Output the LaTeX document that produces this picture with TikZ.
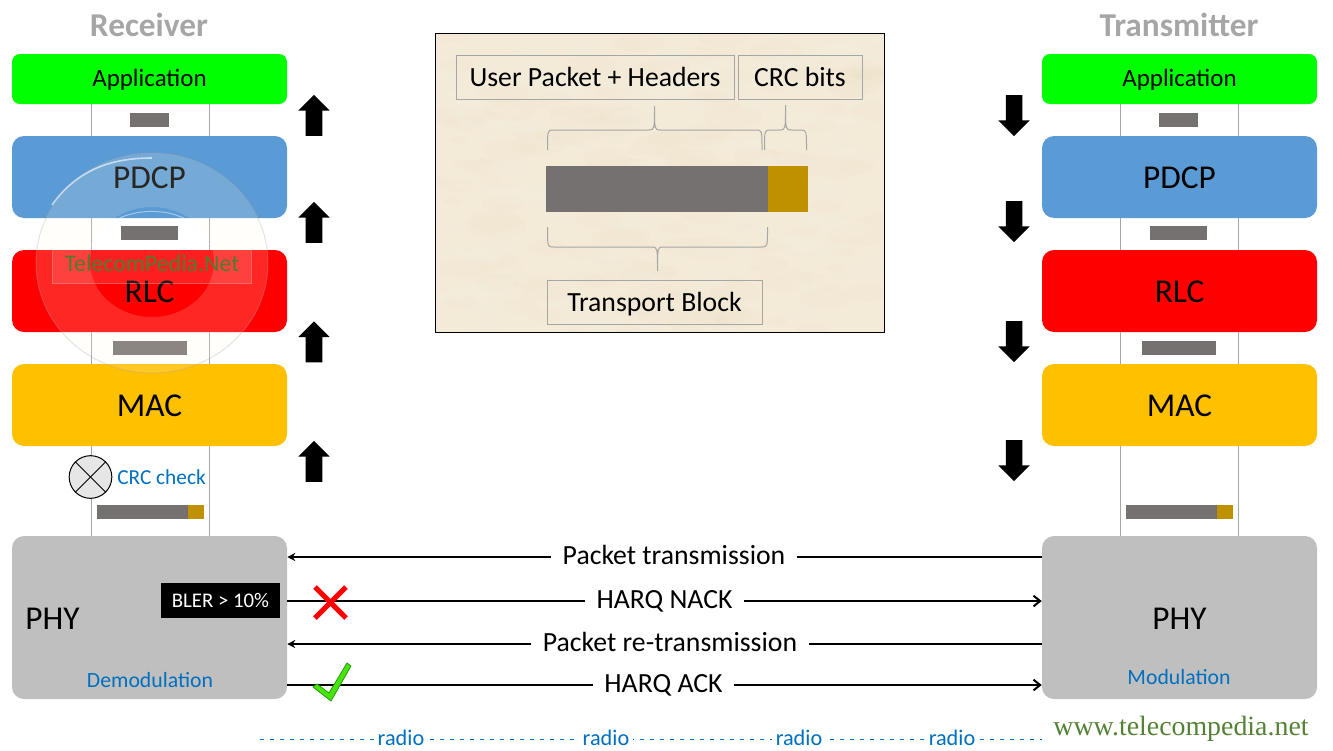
\documentclass[tikz,border=0pt]{standalone}
\usepackage{fontspec}
\setmainfont{Carlito}
\newfontfamily\siteface{Liberation Serif}
\usepackage{tikz}
\usetikzlibrary{arrows.meta}
\usetikzlibrary{calc}
\usetikzlibrary{shapes.arrows}
\definecolor{barGray}{HTML}{767171}
\definecolor{barGold}{HTML}{BF9000}
\definecolor{linkBlue}{HTML}{0070C0}
\definecolor{stemGray}{HTML}{A6A6A6}
\definecolor{paper}{HTML}{F3EAD7}

\begin{document}
\begin{tikzpicture}[
        x=.75pt, y=-.75pt, % 1 unit is one pixel of the figure
        % --- Styles ---
        layer/.style={rounded corners=9pt, minimum width=206.25pt, inner sep=0pt, text=black, text height=17pt, text depth=0pt, font=\fontsize{25}{29}\selectfont},
        title/.style={font=\fontsize{25}{29}\selectfont\bfseries, text=stemGray},
        stem/.style={stemGray, line width=.75pt},
        upblock/.style={single arrow, fill=black, shape border rotate=90, minimum height=30.75pt, minimum width=23.25pt, single arrow head extend=5.6pt, inner sep=6pt},
        downblock/.style={upblock, shape border rotate=270},
        tag/.style={draw=stemGray, line width=.75pt, inner sep=0pt, text height=18.5pt, text depth=4pt, font=\fontsize{20.8}{24}\selectfont, text=black},
        bracket/.style={stemGray, line width=.75pt},
        msg/.style={inner xsep=8.5pt, inner ysep=0pt, text height=15.5pt, text depth=4.3pt, font=\fontsize{20.8}{24}\selectfont},
        msgline/.style={line width=1.5pt},
        blue label/.style={text=linkBlue, font=\fontsize{16.3}{19}\selectfont},
    ]
    \useasboundingbox (0,0) rectangle (1333,750);

    % --- 1. Titles ---
    \node[title] (rxtitle) at (149,25) {Receiver};
    \node[title] (txtitle) at (1179,25) {Transmitter};

    % --- 2. Protocol stacks on both sides ---
    \foreach \s/\x in {rx/149.5, tx/1179.5} {
        \node[layer, fill=green, rounded corners=6pt, minimum height=37.5pt, text height=16pt, text depth=4.5pt, font=\fontsize{18.7}{22}\selectfont] (\s app) at (\x,79) {Application};
        \node[layer, fill={rgb,255:red,91;green,155;blue,213}, minimum height=61.5pt] (\s pdcp) at (\x,177) {PDCP};
        \node[layer, fill=red, minimum height=61.5pt] (\s rlc) at (\x,291) {RLC};
        \node[layer, fill={rgb,255:red,255;green,192;blue,0}, minimum height=61.5pt] (\s mac) at (\x,405) {MAC};
        \node[layer, fill={rgb,255:red,191;green,191;blue,191}, minimum height=122.25pt] (\s phy) at (\x,617.5) {};
    }
    \node[font=\fontsize{25}{29}\selectfont] (rxphytext) at (52.5,619) {PHY};
    \node[font=\fontsize{25}{29}\selectfont] (txphytext) at (1179.5,619) {PHY};
    \node[blue label] (demod) at (150,680) {Demodulation};
    \node[blue label] (mod) at (1179,677) {Modulation};

    % Thin lines between the layers
    \foreach \a/\b in {app/pdcp, pdcp/rlc, rlc/mac, mac/phy} {
        \foreach \s/\x in {rx/91.5, rx/209.5, tx/1120.5, tx/1238.5} {
            \draw[stem] (\x,0 |- \s\a.south) -- (\x,0 |- \s\b.north);
        }
    }

    % --- 3. Small packets between the layers ---
    \foreach \d in {0, 1029} {
        \fill[barGray] (\d+130,113) rectangle (\d+169,127);
        \fill[barGray] (\d+121,226) rectangle (\d+178,240);
        \fill[barGray] (\d+113,341) rectangle (\d+187,355);
        \fill[barGray] (\d+97,505) rectangle (\d+188,519);
        \fill[barGold] (\d+188,505) rectangle (\d+204,519);
    }

    % --- 4. Block arrows ---
    \foreach \n/\y in {1/119.5, 2/226.5, 3/346, 4/465.5} {
        \node[upblock] (up\n) at (314,\y) {};
    }
    \foreach \n/\y in {1/111.5, 2/217.5, 3/337.5, 4/456.5} {
        \node[downblock] (down\n) at (1014,\y) {};
    }

    % --- 5. Transport block inset ---
    \begin{scope}
        \clip (435,33) rectangle (884,332);
        \fill[paper] (435,33) rectangle (884,332);
        \pgfmathsetseed{7}
        \foreach \i in {1,...,160} {
            \pgfmathsetmacro{\bx}{435+449*rnd}
            \pgfmathsetmacro{\by}{33+299*rnd}
            \pgfmathsetmacro{\br}{8+22*rnd}
            \fill[white, opacity=.05] (\bx,\by) ellipse [x radius=\br, y radius=.3*\br];
            \pgfmathsetmacro{\bx}{435+449*rnd}
            \pgfmathsetmacro{\by}{33+299*rnd}
            \fill[brown!50!paper, opacity=.02] (\bx,\by) ellipse [x radius=\br, y radius=.4*\br];
        }
    \end{scope}
    \draw[black, line width=.75pt] (435,33) rectangle (884,332);

    \node[tag, minimum width=208.5pt, minimum height=33pt] (userpacket) at (595,77) {User Packet + Headers};
    \node[tag, minimum width=93pt, minimum height=33pt] (crcbits) at (800,77) {CRC bits};
    \node[tag, minimum width=161.25pt, minimum height=33pt] (tblock) at (654.5,302) {Transport Block};

    \fill[barGray] (546,166) rectangle (768,212);
    \fill[barGold] (768,166) rectangle (808,212);

    % Braces: left end, right end, tip, foot, shoulder, tip height
    \foreach \xa/\xb/\xm/\ya/\yb/\yc in {547.5/762/654.5/150/130/106, 764.5/806.5/785.5/150/130/105, 547.5/767.5/657.5/227/247/271} {
        \draw[bracket] (\xa,\ya) .. controls (\xa,\yb) .. (\xa+6,\yb) -- (\xm-6,\yb) .. controls (\xm,\yb) .. (\xm,\yc) .. controls (\xm,\yb) .. (\xm+6,\yb) -- (\xb-6,\yb) .. controls (\xb,\yb) .. (\xb,\ya);
    }

    % --- 6. CRC check on the receiver ---
    \node[circle, draw=black, fill={rgb,255:red,231;green,230;blue,230}, line width=.75pt, minimum size=32pt, inner sep=0pt] (crc) at (90.5,477) {};
    \draw[line width=.6pt] (crc.north west) -- (crc.south east);
    \draw[line width=.6pt] (crc.north east) -- (crc.south west);
    \node[blue label, anchor=west, inner sep=0pt, font=\fontsize{16}{19}\selectfont] (crctext) at (117,477) {CRC check};
    \node[fill=black, text=white, minimum width=89.25pt, minimum height=26.25pt, inner sep=0pt, font=\fontsize{15.6}{18}\selectfont] (bler) at (220.5,600.5) {BLER > 10\%};

    % --- 7. Messages between the two PHY blocks ---
    \node[msg] (msgtx) at (674,557) {Packet transmission};
    \node[msg] (msgnack) at (664.5,601) {HARQ NACK};
    \node[msg] (msgretx) at (670,644) {Packet re-transmission};
    \node[msg] (msgack) at (663.5,685) {HARQ ACK};
    \draw[msgline] (txphy.west |- msgtx) -- (msgtx.east);
    \draw[msgline, -{Stealth[length=6pt, width=6pt]}] (msgtx.west) -- (rxphy.east |- msgtx);
    \draw[msgline] (rxphy.east |- msgnack) -- (msgnack.west);
    \draw[msgline, -{Straight Barb[length=5pt, width=8pt]}] (msgnack.east) -- (txphy.west |- msgnack);
    \draw[msgline] (txphy.west |- msgretx) -- (msgretx.east);
    \draw[msgline, -{Stealth[length=6pt, width=6pt]}] (msgretx.west) -- (rxphy.east |- msgretx);
    \draw[msgline] (rxphy.east |- msgack) -- (msgack.west);
    \draw[msgline, -{Straight Barb[length=5pt, width=8pt]}] (msgack.east) -- (txphy.west |- msgack);

    % Cross and tick
    \draw[red, line width=3.75pt] (315,587) -- (346,618);
    \draw[red, line width=3.75pt] (346,587) -- (315,618);
    \fill[draw={rgb,255:red,40;green,150;blue,20}, fill={rgb,255:red,70;green,230;blue,10}, line width=.6pt] (313,687) -- (317,684) -- (329,693) -- (347,663) -- (351,666) -- (331,701) -- cycle;

    % --- 8. Radio link and site name ---
    \coordinate (radiostart) at (260,739);
    \coordinate (radioend) at (1042,739);
    \draw[linkBlue, line width=.75pt, dash pattern=on 2.8pt off 4.7pt] (radiostart) -- (radioend);
    \foreach \n/\x in {1/401, 2/606, 3/799, 4/952} {
        \node[fill=white, text=linkBlue, inner xsep=3pt, inner ysep=0pt, font=\fontsize{16.7}{19}\selectfont] (radio\n) at (\x,738) {radio};
    }
    \node[text={rgb,255:red,84;green,130;blue,53}, font=\siteface\fontsize{20.9}{24}\selectfont] (site) at (1181,728.5) {www.telecompedia.net};

    % --- 9. Watermark over the receiver stack ---
    \fill[even odd rule, fill={rgb,255:red,255;green,246;blue,224}, opacity=.16] (152,263) ellipse [x radius=116, y radius=110] (152,262) ellipse [x radius=62, y radius=55];
    \draw[stemGray, opacity=.3, line width=.75pt] (152,263) ellipse [x radius=116, y radius=110];
    \draw[white, opacity=.6, line width=1.2pt] (52,205) .. controls (80,165) and (120,158) .. (152,158);
    \draw[white, opacity=.45, line width=.75pt] (105,228) .. controls (125,208) and (170,205) .. (195,225);
    \node[fill=white, fill opacity=.12, draw=white, draw opacity=.3, text opacity=1, text={rgb,255:red,78;green,125;blue,50}, minimum width=149pt, minimum height=30pt, inner sep=0pt, font=\fontsize{17.9}{21}\selectfont] (watermark) at (152,263) {TelecomPedia.Net};
\end{tikzpicture}
\end{document}
